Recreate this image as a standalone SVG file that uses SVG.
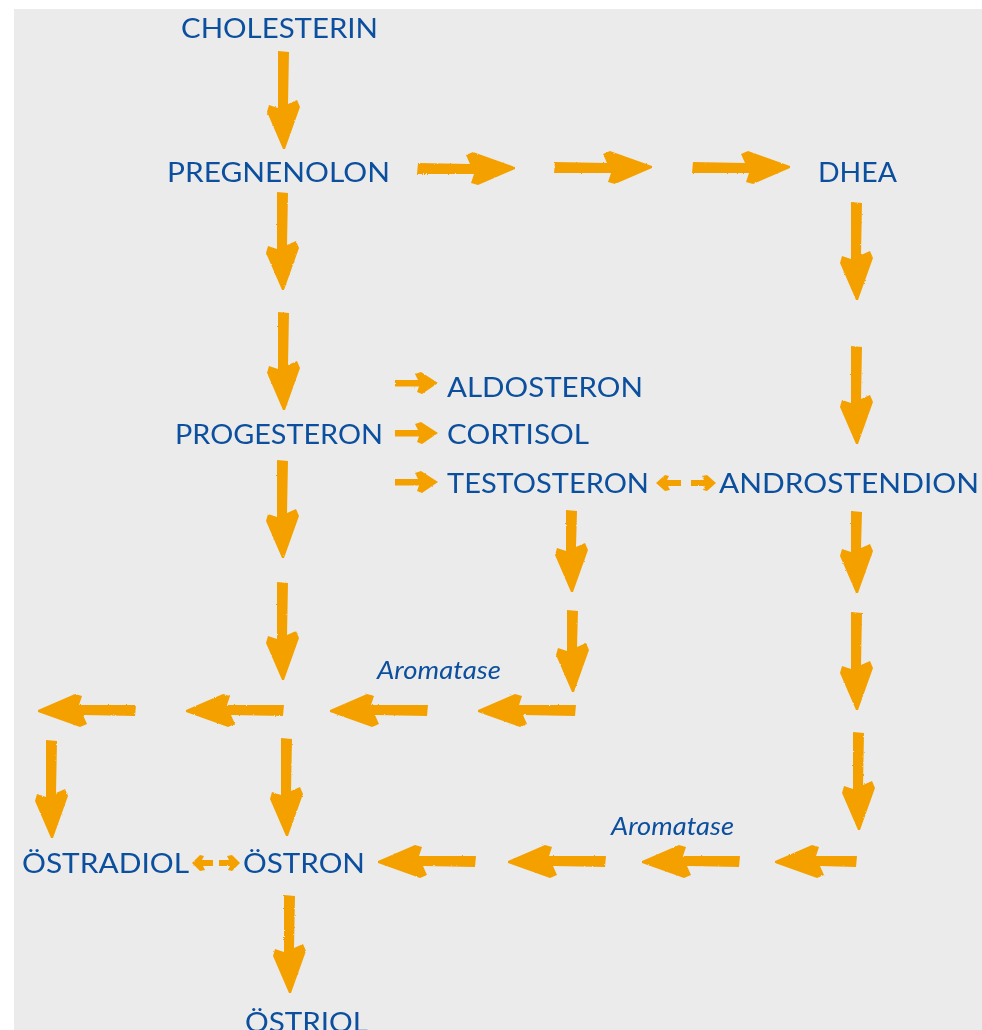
<svg xmlns="http://www.w3.org/2000/svg" xmlns:xlink="http://www.w3.org/1999/xlink" width="982" height="1030" viewBox="0 0 982 1030">
<style>
.t{font-family:"Lato","Liberation Sans",sans-serif;font-size:27px;fill:#0b4f9e;}
.i{font-family:"Lato","Liberation Sans",sans-serif;font-size:25px;font-style:italic;fill:#0b4f9e;}
.a{fill:#f4a100;}
</style>
<defs>
<filter id="rough" x="-20%" y="-20%" width="140%" height="140%">
<feTurbulence type="fractalNoise" baseFrequency="0.9" numOctaves="1" seed="3"/>
<feDisplacementMap in="SourceGraphic" scale="2.2" xChannelSelector="R" yChannelSelector="G"/>
</filter>
<path id="L" d="M -6,-98 L 5,-97 L 4,-45 L 13,-49 L 16,-42 L 1,0 L -1,0 L -17,-37 L -15,-44 L -6,-41 Z"/>
<path id="M" d="M -6,-82 L 5,-81 L 4,-45 L 13,-49 L 16,-42 L 1,0 L -1,0 L -17,-37 L -15,-44 L -6,-41 Z"/>
<path id="S" d="M -3.5,-43 L 3,-43 L 3,-20 L 9,-23 L 11,-17 L 0,0 L -11,-16 L -9,-21 L -3.5,-19 Z"/>
<path id="X" d="M -3,-25 L 3,-25 L 3,-12 L 7,-14 L 8,-9 L 0,0 L -8,-9 L -7,-13 L -3,-11 Z"/>
<path id="Y" d="M -3,-21 L 3,-21 L 3,-11 L 7,-13 L 8,-8 L 0,0 L -8,-8 L -7,-12 L -3,-10 Z"/>
</defs>
<rect x="14" y="9" width="968" height="1021" fill="#ebebeb"/>
<g id="connectors" class="a" filter="url(#rough)">
<use href="#L" transform="translate(284,149)"/>
<use href="#L" transform="translate(283,290)"/>
<use href="#L" transform="translate(284,410)"/>
<use href="#L" transform="translate(283,558)"/>
<use href="#L" transform="translate(283,680)"/>
<use href="#L" transform="translate(857,300)"/>
<use href="#L" transform="translate(857,444)"/>
<use href="#M" transform="translate(857,593)"/>
<use href="#L" transform="translate(857,710)"/>
<use href="#L" transform="translate(859,830)"/>
<use href="#M" transform="translate(572,592)"/>
<use href="#M" transform="translate(573,692)"/>
<use href="#L" transform="translate(52,838)"/>
<use href="#L" transform="translate(287,836)"/>
<use href="#L" transform="translate(290,993)"/>
<use href="#L" transform="translate(515,168) rotate(-90)"/>
<use href="#L" transform="translate(652,167) rotate(-90)"/>
<use href="#L" transform="translate(790,167) rotate(-90)"/>
<use href="#S" transform="translate(438,383) rotate(-90)"/>
<use href="#S" transform="translate(438,433) rotate(-90)"/>
<use href="#S" transform="translate(438,482) rotate(-90)"/>
<use href="#L" transform="translate(478,711) rotate(90)"/>
<use href="#L" transform="translate(330,711) rotate(90)"/>
<use href="#L" transform="translate(186,711) rotate(90)"/>
<use href="#L" transform="translate(38,711) rotate(90)"/>
<use href="#M" transform="translate(775,862) rotate(90)"/>
<use href="#L" transform="translate(642,862) rotate(90)"/>
<use href="#L" transform="translate(508,862) rotate(90)"/>
<use href="#L" transform="translate(378,862) rotate(90)"/>
<use href="#X" transform="translate(656,483) rotate(90)"/>
<use href="#X" transform="translate(716,483) rotate(-90)"/>
<use href="#Y" transform="translate(192,863) rotate(90)"/>
<use href="#Y" transform="translate(240,863) rotate(-90)"/>
</g>
<g id="cholesterin"><text class="t" x="181" y="38" textLength="197" lengthAdjust="spacingAndGlyphs">CHOLESTERIN</text></g>
<g id="pregnenolon"><text class="t" x="167" y="182" textLength="223" lengthAdjust="spacingAndGlyphs">PREGNENOLON</text></g>
<g id="dhea"><text class="t" x="818" y="182" textLength="79" lengthAdjust="spacingAndGlyphs">DHEA</text></g>
<g id="aldosteron"><text class="t" x="447" y="397" textLength="196" lengthAdjust="spacingAndGlyphs">ALDOSTERON</text></g>
<g id="progesteron"><text class="t" x="175" y="444" textLength="208" lengthAdjust="spacingAndGlyphs">PROGESTERON</text></g>
<g id="cortisol"><text class="t" x="447" y="444" textLength="142" lengthAdjust="spacingAndGlyphs">CORTISOL</text></g>
<g id="testosteron"><text class="t" x="447" y="493" textLength="202" lengthAdjust="spacingAndGlyphs">TESTOSTERON</text></g>
<g id="androstendion"><text class="t" x="719" y="493" textLength="260" lengthAdjust="spacingAndGlyphs">ANDROSTENDION</text></g>
<g id="oestradiol"><text class="t" x="22" y="873" textLength="167" lengthAdjust="spacingAndGlyphs">ÖSTRADIOL</text></g>
<g id="oestron"><text class="t" x="243" y="873" textLength="122" lengthAdjust="spacingAndGlyphs">ÖSTRON</text></g>
<g id="oestriol"><text class="t" x="245" y="1032" textLength="123" lengthAdjust="spacingAndGlyphs">ÖSTRIOL</text></g>
<g id="aromatase1"><text class="i" x="377" y="679" textLength="124" lengthAdjust="spacingAndGlyphs">Aromatase</text></g>
<g id="aromatase2"><text class="i" x="611" y="835" textLength="123" lengthAdjust="spacingAndGlyphs">Aromatase</text></g>
</svg>
